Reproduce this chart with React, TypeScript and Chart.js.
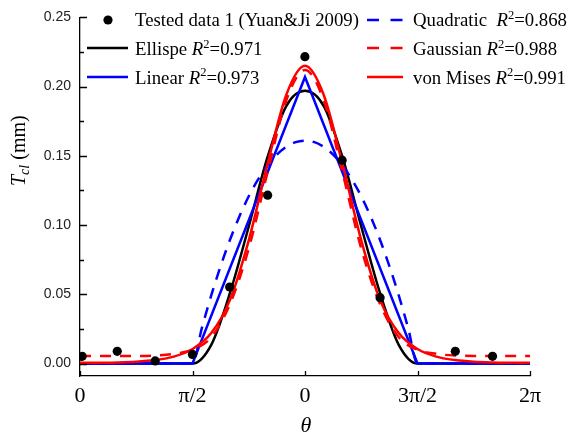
import React, { useEffect, useRef } from 'react';
import { Chart, registerables } from 'chart.js';

Chart.register(...registerables);

const PI = Math.PI;
const SERIF = "'Liberation Serif', 'Times New Roman', serif";
const SANS = "'Liberation Sans', Arial, sans-serif";

// axis ticks
const xTickValues = [0, PI / 2, PI, (3 * PI) / 2, 2 * PI];
const xTickLabels = ['0', 'π/2', '0', '3π/2', '2π'];
const yTickValues = [0, 0.05, 0.1, 0.15, 0.2, 0.25];
const yMinorTickValues = [0.025, 0.075, 0.125, 0.175, 0.225];

// tested data (radians, mm)
const testedTheta = [0.03, 0.52, 1.05, 1.57, 2.09, 2.62, 3.14, 3.66, 4.19, 5.24, 5.76];
const testedT = [0.0052, 0.0088, 0.0019, 0.0066, 0.0552, 0.1216, 0.2216, 0.1469, 0.0476, 0.0088, 0.0052];

// fitted curves sampled every π/12 (step index 0..24)
const fitSteps = [0, 1, 2, 3, 4, 5, 6, 7, 8, 9, 10, 11, 12, 13, 14, 15, 16, 17, 18, 19, 20, 21, 22, 23, 24];
const ellipseT = [0, 0, 0, 0, 0, 0, 0, 0.0135, 0.051, 0.099, 0.149, 0.186, 0.197, 0.186, 0.149, 0.099, 0.051, 0.0135, 0, 0, 0, 0, 0, 0, 0];
const gaussianT = [0.0055, 0.0055, 0.0055, 0.0055, 0.0058, 0.007, 0.010, 0.019, 0.043, 0.083, 0.138, 0.190, 0.212, 0.190, 0.138, 0.083, 0.043, 0.019, 0.010, 0.007, 0.0058, 0.0055, 0.0055, 0.0055, 0.0055];
const vonMisesT = [0.0005, 0.0006, 0.0008, 0.0013, 0.0025, 0.005, 0.0105, 0.022, 0.046, 0.089, 0.144, 0.194, 0.215, 0.194, 0.144, 0.089, 0.046, 0.022, 0.0105, 0.005, 0.0025, 0.0013, 0.0008, 0.0006, 0.0005];

// quadratic sampled every π/24 between π/2 and 3π/2 (step index), plus ends
const quadSteps = [0, 12, 13, 14, 15, 16, 17, 18, 19, 20, 21, 22, 23, 24, 25, 26, 27, 28, 29, 30, 31, 32, 33, 34, 35, 36, 48];
const quadraticT = [0, 0, 0.0257, 0.0492, 0.0704, 0.0894, 0.1062, 0.1208, 0.133, 0.1431, 0.1509, 0.1565, 0.1599, 0.161, 0.1599, 0.1565, 0.1509, 0.1431, 0.133, 0.1208, 0.1062, 0.0894, 0.0704, 0.0492, 0.0257, 0, 0];

const linearTheta = [0, PI / 2, PI, (3 * PI) / 2, 2 * PI];
const linearT = [0, 0, 0.207, 0, 0];

// legend
const testedLabel = 'Tested data 1 (Yuan&Ji 2009)';
const fitNames = ['Ellispe ', 'Linear ', 'Quadratic  ', 'Gaussian ', 'von Mises '];
const fitR2 = ['0.971', '0.973', '0.868', '0.988', '0.991'];

const BLUE = '#0000ff';
const RED = '#ff0000';
const BLACK = '#000000';
const DASH = [11, 9];
const LEGEND_SIZE = 18.8;

const fitPoints = (vals: number[]) => fitSteps.map((k, i) => ({ x: (k * PI) / 12, y: vals[i] }));

function drawParts(ctx: CanvasRenderingContext2D, x: number, baseline: number, parts: { t: string; it?: boolean; sup?: boolean }[]) {
  let cx = x;
  for (const p of parts) {
    const size = p.sup ? 12.5 : LEGEND_SIZE;
    ctx.font = `${p.it ? 'italic ' : ''}${size}px ${SERIF}`;
    ctx.fillText(p.t, cx, p.sup ? baseline - 7.5 : baseline);
    cx += ctx.measureText(p.t).width;
  }
}

const overlayPlugin = {
  id: 'overlay',
  afterDraw(chart: any) {
    const { ctx, chartArea, scales } = chart;
    const xs = scales.x;
    const ys = scales.y;
    ctx.save();
    // inward ticks
    ctx.strokeStyle = '#000';
    ctx.lineWidth = 1.3;
    ctx.beginPath();
    for (const v of yTickValues) {
      const py = Math.round(ys.getPixelForValue(v)) + 0.5;
      ctx.moveTo(chartArea.left, py);
      ctx.lineTo(chartArea.left + 7, py);
    }
    for (const v of yMinorTickValues) {
      const py = Math.round(ys.getPixelForValue(v)) + 0.5;
      ctx.moveTo(chartArea.left, py);
      ctx.lineTo(chartArea.left + 4, py);
    }
    for (const v of xTickValues) {
      const px = Math.round(xs.getPixelForValue(v)) + 0.5;
      ctx.moveTo(px, chartArea.bottom);
      ctx.lineTo(px, chartArea.bottom - 5);
    }
    ctx.stroke();

    // axis titles
    ctx.fillStyle = '#000';
    ctx.textAlign = 'center';
    ctx.textBaseline = 'alphabetic';
    ctx.font = `italic 22px ${SERIF}`;
    ctx.fillText('θ', (chartArea.left + chartArea.right) / 2 + 1, 432);

    ctx.save();
    ctx.translate(25, 186);
    ctx.rotate(-PI / 2);
    ctx.textAlign = 'left';
    let cx = 0;
    ctx.font = `italic 20px ${SERIF}`;
    ctx.fillText('T', cx, 0);
    cx += ctx.measureText('T').width;
    ctx.font = `italic 14px ${SERIF}`;
    ctx.fillText('cl', cx, 4);
    cx += ctx.measureText('cl').width;
    ctx.font = `20px ${SERIF}`;
    ctx.fillText(' (mm)', cx, 0);
    ctx.restore();

    // legend
    ctx.textAlign = 'left';
    const rows = [26, 55, 83.5];
    const col1Text = 135;
    const col2Text = 413;
    ctx.beginPath();
    ctx.arc(108, 20, 4.6, 0, 2 * PI);
    ctx.fillStyle = '#000';
    ctx.fill();
    drawParts(ctx, col1Text, rows[0], [{ t: testedLabel }]);

    const samples = [
      { x0: 87, x1: 128, y: 48, color: BLACK, dash: [] as number[], row: 1, tx: col1Text },
      { x0: 87, x1: 128, y: 77, color: BLUE, dash: [] as number[], row: 2, tx: col1Text },
      { x0: 367, x1: 403, y: 20, color: BLUE, dash: [12, 11.5], row: 0, tx: col2Text },
      { x0: 367, x1: 403, y: 48, color: RED, dash: [12, 11.5], row: 1, tx: col2Text },
      { x0: 367, x1: 403, y: 77, color: RED, dash: [] as number[], row: 2, tx: col2Text },
    ];
    samples.forEach((s, i) => {
      ctx.beginPath();
      ctx.setLineDash(s.dash);
      ctx.strokeStyle = s.color;
      ctx.lineWidth = 2.6;
      ctx.moveTo(s.x0, s.y);
      ctx.lineTo(s.x1, s.y);
      ctx.stroke();
      ctx.setLineDash([]);
      ctx.fillStyle = '#000';
      drawParts(ctx, s.tx, rows[s.row], [
        { t: fitNames[i] },
        { t: 'R', it: true },
        { t: '2', sup: true },
        { t: '=' + fitR2[i] },
      ]);
    });
    ctx.restore();
  },
};

export default function App() {
  const ref = useRef<HTMLCanvasElement | null>(null);
  useEffect(() => {
    if (!ref.current) return;
    const lineBase = { pointRadius: 0, borderWidth: 2.5, fill: false, showLine: true };
    const chart = new Chart(ref.current, {
      type: 'line',
      data: {
        datasets: [
          {
            label: testedLabel,
            data: testedTheta.map((x, i) => ({ x, y: testedT[i] })),
            showLine: false,
            pointRadius: 4.6,
            pointBackgroundColor: '#000',
            pointBorderWidth: 0,
            borderColor: '#000',
            order: 0,
          },
          {
            ...lineBase,
            label: 'von Mises',
            data: fitPoints(vonMisesT),
            borderColor: RED,
            cubicInterpolationMode: 'monotone',
            order: 1,
          },
          {
            ...lineBase,
            label: 'Gaussian',
            data: fitPoints(gaussianT),
            borderColor: RED,
            borderDash: DASH,
            cubicInterpolationMode: 'monotone',
            order: 2,
          },
          {
            ...lineBase,
            label: 'Linear',
            data: linearTheta.map((x, i) => ({ x, y: linearT[i] })),
            borderColor: BLUE,
            tension: 0,
            order: 3,
          },
          {
            ...lineBase,
            label: 'Quadratic',
            data: quadSteps.map((k, i) => ({ x: (k * PI) / 24, y: quadraticT[i] })),
            borderColor: BLUE,
            borderDash: DASH,
            cubicInterpolationMode: 'monotone',
            order: 4,
          },
          {
            ...lineBase,
            label: 'Ellispe',
            data: fitPoints(ellipseT),
            borderColor: BLACK,
            cubicInterpolationMode: 'monotone',
            order: 5,
          },
        ] as any,
      },
      options: {
        responsive: false,
        animation: false,
        devicePixelRatio: 1,
        layout: { padding: { left: 0, top: 13, right: 42, bottom: 0 } },
        plugins: { legend: { display: false }, tooltip: { enabled: false } },
        scales: {
          x: {
            type: 'linear',
            min: 0,
            max: 2 * PI,
            grid: { display: false, drawTicks: false },
            border: { display: true, color: '#000', width: 1.3 },
            ticks: {
              font: { family: SERIF, size: 22 },
              color: '#000',
              padding: 7,
              maxRotation: 0,
              autoSkip: false,
              callback: (_v: any, i: number) => xTickLabels[i],
            },
            afterBuildTicks: (s: any) => {
              s.ticks = xTickValues.map((v) => ({ value: v }));
            },
            afterFit: (s: any) => {
              s.height = 63;
            },
          },
          y: {
            type: 'linear',
            min: -0.009,
            max: 0.25,
            grid: { display: false, drawTicks: false },
            border: { display: true, color: '#000', width: 1.3 },
            ticks: {
              font: { family: SANS, size: 14 },
              color: '#222',
              padding: 9,
              callback: (v: any) => Number(v).toFixed(2),
            },
            afterBuildTicks: (s: any) => {
              s.ticks = yTickValues.map((v) => ({ value: v }));
            },
            afterFit: (s: any) => {
              s.width = 80;
            },
          },
        },
      } as any,
      plugins: [overlayPlugin],
    });
    return () => chart.destroy();
  }, []);
  return (
    <div style={{ position: 'fixed', left: 0, top: 0, width: 572, height: 439, background: '#fff' }}>
      <canvas ref={ref} width={572} height={439} />
    </div>
  );
}
